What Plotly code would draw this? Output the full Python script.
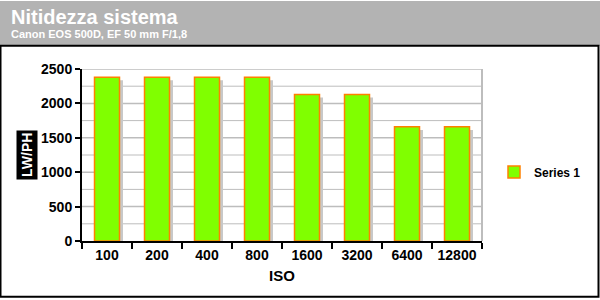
import plotly.graph_objects as go

categories = ["100", "200", "400", "800", "1600", "3200", "6400", "12800"]
values = [2380, 2380, 2380, 2380, 2130, 2130, 1660, 1660]
series_name = "Series 1"
title = "Nitidezza sistema"
subtitle = "Canon EOS 500D, EF 50 mm F/1,8"
y_title = "LW/PH"
x_title = "ISO"

W, H = 600, 300
L, R, T, B = 82, 482, 68.5, 241.5
pw, ph = R - L, B - T

def px(x):
    return (x - L) / pw

def py(y):
    return (B - y) / ph

FONT = "Liberation Sans, Arial, sans-serif"

fig = go.Figure()
# drop shadow (derived from the same values)
fig.add_trace(go.Bar(
    x=categories, y=[v - 45 for v in values], width=0.5, offset=-0.25 + 0.07,
    marker=dict(color="#c8c8c8", line=dict(width=0)), showlegend=False, hoverinfo="skip"))
fig.add_trace(go.Bar(
    x=categories, y=values, width=0.5, offset=-0.25, name=series_name,
    marker=dict(color="#80ff00", line=dict(color="#ff8000", width=1.5))))

fig.update_layout(
    width=W, height=H, barmode="overlay",
    margin=dict(l=L, r=W - R, t=T, b=H - B, pad=0),
    paper_bgcolor="white", plot_bgcolor="white",
    font=dict(family=FONT, size=12, color="black"),
    showlegend=True,
    legend=dict(x=px(494), y=py(172), xanchor="left", yanchor="middle",
                font=dict(family=FONT, size=12, color="black", weight="bold"),
                bgcolor="rgba(0,0,0,0)"),
    xaxis=dict(type="category", showline=True, linecolor="black", linewidth=2,
               ticks="outside", tickson="boundaries", ticklen=6, tickwidth=2, tickcolor="black",
               showgrid=False, tickfont=dict(family=FONT, size=14, weight="bold"),
               title=dict(text=x_title, font=dict(family=FONT, size=15, weight="bold"), standoff=9),
               range=[-0.5, 7.5], mirror=False),
    yaxis=dict(range=[0, 2500], tickvals=[0, 500, 1000, 1500, 2000, 2500],
               showline=True, linecolor="black", linewidth=2,
               ticks="outside", ticklen=5, tickwidth=2, tickcolor="black",
               showgrid=False, zeroline=False,
               tickfont=dict(family=FONT, size=14, weight="bold")),
)

shapes = []
# header background
shapes.append(dict(type="rect", xref="paper", yref="paper", x0=px(0), x1=px(600), y0=py(45), y1=py(0),
                   fillcolor="#b3b3b3", line=dict(width=0), layer="below"))
# gridlines every 250
for g in range(250, 2501, 250):
    shapes.append(dict(type="line", xref="paper", yref="y", x0=0, x1=1, y0=g, y1=g,
                       line=dict(color="#bdbdbd", width=1.5 if g % 500 == 0 else 1), layer="below"))
# right plot border
shapes.append(dict(type="line", xref="paper", yref="paper", x0=1, x1=1, y0=0, y1=1,
                   line=dict(color="#bdbdbd", width=2), layer="below"))
# panel border
shapes.append(dict(type="rect", xref="paper", yref="paper", x0=px(0.5), x1=px(598.5), y0=py(297.5), y1=py(45),
                   line=dict(color="black", width=2), fillcolor="rgba(0,0,0,0)"))
fig.update_layout(shapes=shapes)

fig.add_annotation(text=title, xref="paper", yref="paper", x=px(9), y=py(16), xanchor="left", yanchor="middle",
                   showarrow=False, font=dict(family=FONT, size=20, color="white", weight="bold"))
fig.add_annotation(text=subtitle, xref="paper", yref="paper", x=px(9), y=py(33), xanchor="left", yanchor="middle",
                   showarrow=False, font=dict(family=FONT, size=11, color="white", weight="bold"))
fig.add_annotation(text=y_title, xref="paper", yref="paper", x=px(27), y=py(155), xanchor="center", yanchor="middle",
                   textangle=-90, showarrow=False, bgcolor="black", borderpad=2,
                   font=dict(family=FONT, size=14, color="white", weight="bold"))

fig.write_html("out.html")
